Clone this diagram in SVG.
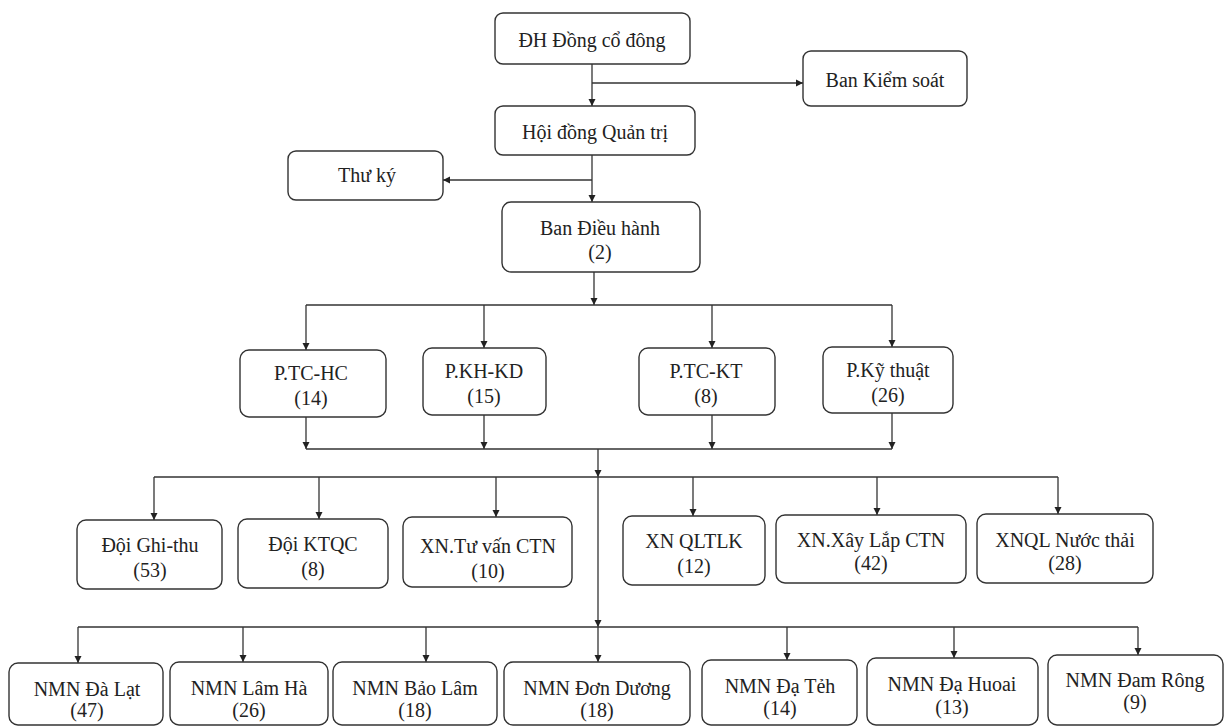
<svg xmlns="http://www.w3.org/2000/svg" width="1231" height="727" viewBox="0 0 1231 727">
<defs>
<marker id="ah" markerWidth="8" markerHeight="8" refX="7" refY="4" orient="auto" markerUnits="userSpaceOnUse">
<path d="M0,0.5 L7,4 L0,7.5 Z" fill="#222"/>
</marker>
<style>
.box{fill:#fff;stroke:#333;stroke-width:1.4}
text{font-family:'Liberation Serif','Times New Roman',serif;font-size:20px;fill:#222;text-anchor:middle;dominant-baseline:central}
.c{fill:none;stroke:#333;stroke-width:1.3}
.a{fill:none;stroke:#333;stroke-width:1.3;marker-end:url(#ah)}
</style>
</defs>
<rect width="1231" height="727" fill="#fff"/>

<g id="connectors">
<path class="a" d="M592,64 V106"/>
<path class="a" d="M592,83 H803"/>
<path class="a" d="M592,155 V202"/>
<path class="a" d="M592,180 H443"/>
<path class="a" d="M594,272 V305"/>
<path class="c" d="M306,305 H892"/>
<path class="a" d="M306,305 V350"/>
<path class="a" d="M484,305 V348"/>
<path class="a" d="M712,305 V348"/>
<path class="a" d="M892,305 V347"/>
<path class="a" d="M306,417 V449"/>
<path class="a" d="M484,415 V449"/>
<path class="a" d="M712,415 V449"/>
<path class="a" d="M892,413 V449"/>
<path class="c" d="M306,449 H892"/>
<path class="a" d="M598,449 V477"/>
<path class="c" d="M154,477 H1058"/>
<path class="a" d="M154,477 V520"/>
<path class="a" d="M319,477 V519"/>
<path class="a" d="M496,477 V517"/>
<path class="a" d="M693,477 V516"/>
<path class="a" d="M877,477 V515"/>
<path class="a" d="M1058,477 V514"/>
<path class="a" d="M598,477 V627"/>
<path class="a" d="M598,627 V662"/>
<path class="c" d="M78,627 H1138"/>
<path class="a" d="M78,627 V663"/>
<path class="a" d="M243,627 V662"/>
<path class="a" d="M426,627 V662"/>
<path class="a" d="M787,627 V660"/>
<path class="a" d="M954,627 V658"/>
<path class="a" d="M1138,627 V655"/>
</g>

<g id="dh"><rect class="box" x="495" y="13" width="195" height="51" rx="8"/><text x="592" y="40">ĐH Đồng cổ đông</text></g>
<g id="bks"><rect class="box" x="803" y="51" width="164" height="55" rx="8"/><text x="885" y="80">Ban Kiểm soát</text></g>
<g id="hdqt"><rect class="box" x="495" y="106" width="200" height="49" rx="8"/><text x="595" y="132">Hội đồng Quản trị</text></g>
<g id="thuky"><rect class="box" x="288" y="151" width="155" height="49" rx="8"/><text x="367" y="175">Thư ký</text></g>
<g id="bdh"><rect class="box" x="502" y="202" width="198" height="70" rx="9"/><text x="600" y="228">Ban Điều hành</text><text x="600" y="252">(2)</text></g>

<g id="ptchc"><rect class="box" x="240" y="350" width="146" height="67" rx="9"/><text x="311" y="373">P.TC-HC</text><text x="311" y="398">(14)</text></g>
<g id="pkhkd"><rect class="box" x="423" y="348" width="123" height="67" rx="9"/><text x="484" y="371">P.KH-KD</text><text x="484" y="396">(15)</text></g>
<g id="ptckt"><rect class="box" x="639" y="348" width="136" height="67" rx="9"/><text x="706" y="371">P.TC-KT</text><text x="706" y="396">(8)</text></g>
<g id="pkt"><rect class="box" x="823" y="347" width="130" height="66" rx="9"/><text x="888" y="370">P.Kỹ thuật</text><text x="888" y="395">(26)</text></g>

<g id="doighithu"><rect class="box" x="77" y="520" width="145" height="69" rx="9"/><text x="150" y="545">Đội Ghi-thu</text><text x="150" y="570">(53)</text></g>
<g id="doiktqc"><rect class="box" x="238" y="519" width="150" height="69" rx="9"/><text x="313" y="544">Đội KTQC</text><text x="313" y="569">(8)</text></g>
<g id="xntuvan"><rect class="box" x="403" y="517" width="169" height="70" rx="9"/><text x="488" y="546">XN.Tư vấn CTN</text><text x="488" y="571">(10)</text></g>
<g id="xnqltlk"><rect class="box" x="623" y="516" width="142" height="69" rx="9"/><text x="694" y="541">XN QLTLK</text><text x="694" y="566">(12)</text></g>
<g id="xnxaylap"><rect class="box" x="776" y="515" width="190" height="68" rx="9"/><text x="871" y="540">XN.Xây Lắp CTN</text><text x="871" y="563">(42)</text></g>
<g id="xnqlnuocthai"><rect class="box" x="977" y="514" width="176" height="69" rx="9"/><text x="1065" y="540">XNQL Nước thải</text><text x="1065" y="563">(28)</text></g>

<g id="nmndalat"><rect class="box" x="9" y="663" width="154" height="62" rx="9"/><text x="87" y="689">NMN Đà Lạt</text><text x="87" y="710">(47)</text></g>
<g id="nmnlamha"><rect class="box" x="170" y="662" width="158" height="63" rx="9"/><text x="249" y="688">NMN Lâm Hà</text><text x="249" y="710">(26)</text></g>
<g id="nmnbaolam"><rect class="box" x="333" y="662" width="164" height="63" rx="9"/><text x="415" y="688">NMN Bảo Lâm</text><text x="415" y="710">(18)</text></g>
<g id="nmndonduong"><rect class="box" x="504" y="662" width="186" height="63" rx="9"/><text x="597" y="688">NMN Đơn Dương</text><text x="597" y="710">(18)</text></g>
<g id="nmndateh"><rect class="box" x="702" y="660" width="155" height="65" rx="9"/><text x="780" y="686">NMN Đạ Tẻh</text><text x="780" y="708">(14)</text></g>
<g id="nmndahuoai"><rect class="box" x="867" y="658" width="171" height="67" rx="9"/><text x="952" y="684">NMN Đạ Huoai</text><text x="952" y="707">(13)</text></g>
<g id="nmndamrong"><rect class="box" x="1048" y="655" width="175" height="70" rx="9"/><text x="1135" y="680">NMN Đam Rông</text><text x="1135" y="702">(9)</text></g>
</svg>
